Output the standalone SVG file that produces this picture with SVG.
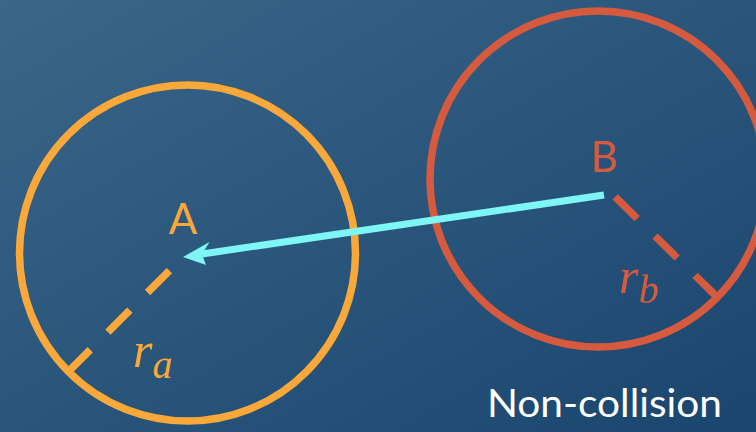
<svg xmlns="http://www.w3.org/2000/svg" width="756" height="432" viewBox="0 0 756 432">
<defs>
<linearGradient id="bg" x1="0" y1="0" x2="1" y2="1">
<stop offset="0" stop-color="#3a6689"/>
<stop offset="1" stop-color="#1a456e"/>
</linearGradient>
</defs>
<style>
.circ{fill:none;stroke-width:7.5}
.rad{fill:none;stroke-width:7.5;stroke-dasharray:31 25}
.lbl{font-family:Lato,"Open Sans",sans-serif;font-size:42px;text-anchor:middle}
.math{font-family:"Liberation Serif","DejaVu Serif",serif;font-style:italic;font-size:50px}
.sub{font-size:40px}
</style>
<rect width="756" height="432" fill="url(#bg)"/>
<g id="nodeA">
<circle class="circ" cx="187.5" cy="253" r="168" stroke="#fba83a"/>
<line class="rad" x1="185" y1="255" x2="68" y2="372" stroke="#fba83a" stroke-dashoffset="34"/>
<text class="lbl" x="183" y="234" fill="#fba83a">A</text>
<text class="math" x="133" y="367" fill="#fba83a">r<tspan class="sub" dy="11">a</tspan></text>
</g>
<g id="nodeB">
<circle class="circ" cx="598" cy="179" r="168" stroke="#d65b3e"/>
<line class="rad" x1="603" y1="185" x2="716" y2="296" stroke="#d65b3e" stroke-dashoffset="39"/>
<text class="lbl" x="604" y="172" fill="#d65b3e">B</text>
<text class="math" x="619" y="293" fill="#d65b3e">r<tspan class="sub" dy="10">b</tspan></text>
</g>
<g id="connectors">
<line x1="604" y1="195" x2="202" y2="254" stroke="#7ef6f6" stroke-width="7"/>
<polygon points="183,257 209.5,242 202,254.2 206,265" fill="#7ef6f6"/>
</g>
<text x="487" y="417" font-family="Lato,'Open Sans',sans-serif" font-size="39" fill="#ffffff" textLength="235" lengthAdjust="spacingAndGlyphs">Non-collision</text>
</svg>
